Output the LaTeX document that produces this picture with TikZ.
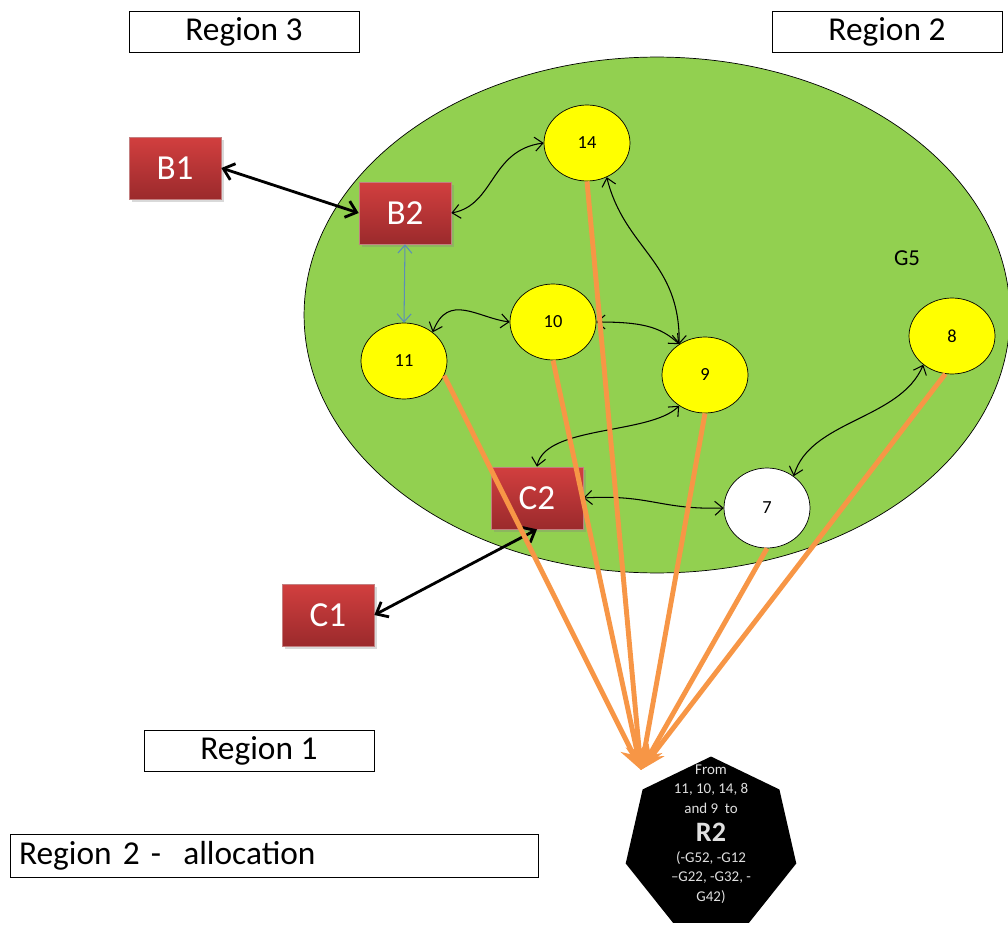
\documentclass[tikz,border=0pt]{standalone}
\usepackage{fontspec}
\setmainfont{Carlito}
\usetikzlibrary{arrows.meta, positioning, shapes.geometric, shadows}

\definecolor{zonegreen}{HTML}{92D050}
\definecolor{gennode}{HTML}{FFFF00}
\definecolor{feedorange}{HTML}{F79646}
\definecolor{redtop}{HTML}{D23F3F}
\definecolor{redbottom}{HTML}{9B2A2C}
\definecolor{linkblue}{HTML}{5B8DB8}

\begin{document}
\begin{tikzpicture}[
		x=0.02cm, y=-0.02cm,
		region/.style={rectangle, draw, fill=white, minimum height=0.8cm, minimum width=4.6cm, font=\fontsize{19}{21}\selectfont},
		block/.style={rectangle, top color=redtop, bottom color=redbottom, draw=redbottom!60, minimum width=1.84cm, minimum height=1.24cm, text=white, font=\fontsize{20}{22}\selectfont, drop shadow={opacity=0.3, shadow xshift=0.6mm, shadow yshift=-0.6mm}},
		gen/.style={ellipse, draw, fill=gennode, minimum width=1.72cm, minimum height=1.52cm, inner sep=0pt, font=\fontsize{10.5}{12}\selectfont},
		link/.style={{Straight Barb[length=1.6mm, width=2.8mm]}-{Straight Barb[length=1.6mm, width=2.8mm]}, line width=0.6pt},
		tie/.style={{Straight Barb[length=2mm, width=3.4mm]}-{Straight Barb[length=2mm, width=3.4mm]}, line width=1.6pt},
		feed/.style={-{Stealth[length=5mm, width=4mm]}, line width=2.8pt, draw=feedorange}
	]
	\useasboundingbox (0,0) rectangle (1008,926);
	
	% Zone
	\node[ellipse, draw, fill=zonegreen, minimum width=14.12cm, minimum height=10.32cm] (zone) at (657,315) {};
	\node[font=\fontsize{13}{15}\selectfont] (g5) at (907,258) {G5};
	
	% Region labels
	\node[region] (reg3) at (244,32) {Region 3};
	\node[region] (reg2) at (887,32) {Region 2};
	\node[region] (reg1) at (259,751) {Region 1};
	\node[region, minimum width=10.56cm, minimum height=0.86cm, text width=10.2cm, align=left] (alloc) at (274,856) {Region 2 -\ \ allocation};
	
	% Buses
	\node[block] (b1) at (175,168) {B1};
	\node[block] (b2) at (405,213) {B2};
	\node[block] (c2) at (537,498) {C2};
	\node[block] (c1) at (328,615) {C1};
	
	% Generators
	\node[gen] (n14) at (587,143) {14};
	\node[gen] (n10) at (553,322) {10};
	\node[gen] (n11) at (404,361) {11};
	\node[gen] (n9) at (705,375) {9};
	\node[gen] (n8) at (952,336) {8};
	\node[gen, fill=white, minimum height=1.6cm] (n7) at (767,508) {7};
	
	% Target
	\node[regular polygon, regular polygon sides=7, fill=black, minimum size=3.5cm, inner sep=0pt] (r2) at (711,844) {};
	\node[text=white!88!black, align=center, font=\fontsize{8.5}{11}\selectfont] (r2text) at (711,834) {From\\11, 10, 14, 8\\and 9\ \ to\\[5pt]{\fontsize{16}{17}\selectfont\bfseries R2}\\[1pt](-G52, -G12\\–G22, -G32, -\\G42)};
	
	% Links
	\draw[tie] (b1.east) -- (b2.west);
	\draw[tie] (c1.east) -- (c2.south);
	\draw[link, draw=linkblue] (b2.south) -- (n11.north);
	\draw[link] (b2.east) .. controls (495,205) and (490,150) .. (n14.west);
	\draw[link] (n11.45) .. controls (448,292) and (478,318) .. (n10.west);
	\draw[link] (n14.-60) .. controls (625,250) and (680,260) .. (n9.130);
	\draw[link] (n10.east) .. controls (640,322) and (660,326) .. (n9.130);
	\draw[link] (n9.-130) .. controls (650,435) and (545,425) .. (c2.north);
	\draw[link] (c2.east) .. controls (650,494) and (660,510) .. (n7.west);
	\draw[link] (n8.-135) .. controls (900,420) and (810,420) .. (n7.50);
	
	% Feeds to R2
	\coordinate (sink) at (641,770);
	\draw[feed] (n11.-20) -- (sink);
	\draw[feed] (n10.south) -- (sink);
	\draw[feed] (n14.south) -- (sink);
	\draw[feed] (n9.south) -- (sink);
	\draw[feed] (n7.south) -- (sink);
	\draw[feed] (n8.-100) -- (sink);
	
\end{tikzpicture}
\end{document}
